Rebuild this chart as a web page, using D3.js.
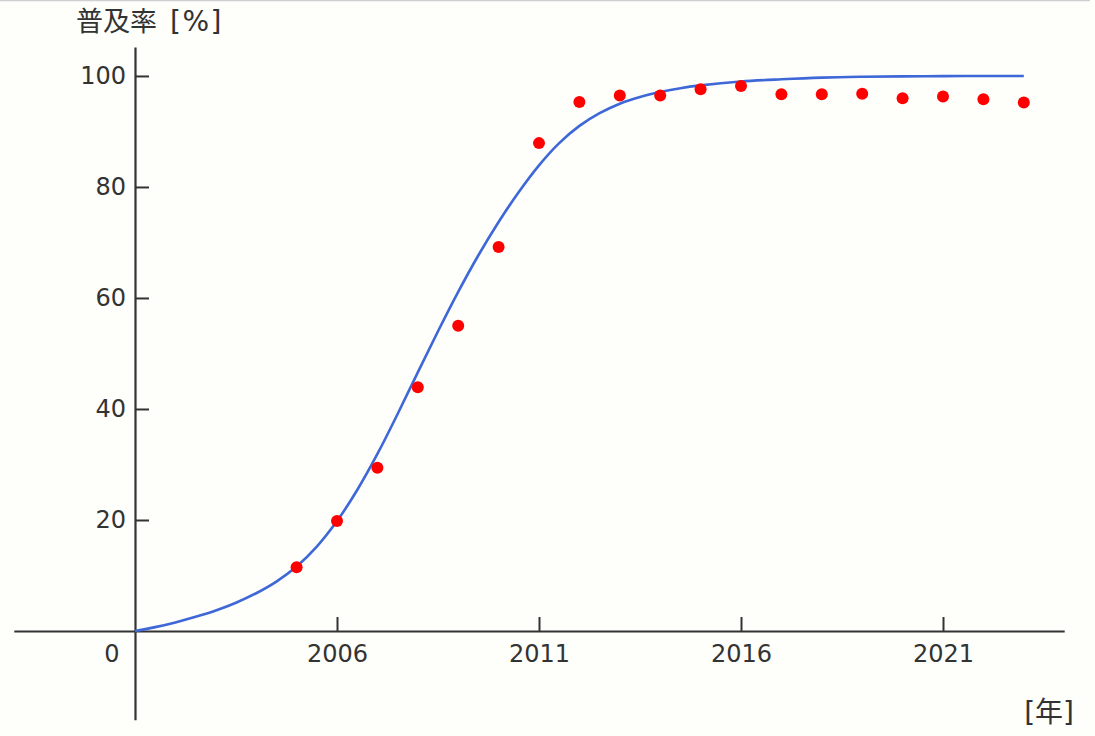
<!DOCTYPE html>
<html>
<head>
<meta charset="utf-8">
<script src="https://cdn.jsdelivr.net/npm/d3@7"></script>
<style>
  html, body { margin: 0; padding: 0; background: #fefefb; }
  svg { display: block; }
  text { font-family: "DejaVu Sans", "Noto Sans CJK JP", sans-serif; fill: #333; }
</style>
</head>
<body>
<svg id="chart" width="1095" height="736"></svg>
<script>
// Observed diffusion rate (%) by year
const years = [2005, 2006, 2007, 2008, 2009, 2010, 2011, 2012, 2013, 2014, 2015, 2016, 2017, 2018, 2019, 2020, 2021, 2022, 2023];
const shares = [11.5, 19.8, 29.4, 43.9, 55.0, 69.2, 87.9, 95.3, 96.5, 96.5, 97.6, 98.2, 96.7, 96.7, 96.8, 96.0, 96.3, 95.8, 95.2];

// Fitted curve
const curveYears = [2001, 2001.5, 2002, 2002.5, 2003, 2003.5, 2004, 2004.5, 2005, 2005.5, 2006, 2006.5, 2007, 2007.5, 2008, 2008.5, 2009, 2009.5, 2010, 2010.5, 2011, 2011.5, 2012, 2012.5, 2013, 2013.5, 2014, 2014.5, 2015, 2016, 2017, 2018, 2019, 2020, 2021, 2022, 2023];
const curveValues = [0, 0.7, 1.55, 2.55, 3.7, 5.1, 6.8, 8.9, 11.6, 15.2, 19.8, 25.4, 31.9, 39.1, 46.6, 54.0, 61.1, 67.7, 73.7, 79.1, 83.9, 87.9, 91.0, 93.3, 95.0, 96.2, 97.1, 97.8, 98.3, 99.0, 99.4, 99.7, 99.85, 99.93, 99.97, 100, 100];

// Axis ticks
const xTickValues = [2006, 2011, 2016, 2021];
const xTickLabels = ["2006", "2011", "2016", "2021"];
const yTickValues = [20, 40, 60, 80, 100];
const originLabel = "0";
const yTitle = "普及率";
const yUnit = "[%]";
const xUnit = "[年]";

const svg = d3.select("#chart");

// top border line of the screenshot
svg.append("line")
  .attr("x1", 0).attr("x2", 1090).attr("y1", 0.5).attr("y2", 0.5)
  .attr("stroke", "#cfcfcf").attr("stroke-width", 1.5);

const x = d3.scaleLinear().domain([1998, 2024]).range([13.8, 1064.2]);
const y = d3.scaleLinear().domain([-16, 105.2]).range([719.8, 47.1]);

// X axis through y=0
const xAxis = d3.axisBottom(x)
  .tickValues(xTickValues)
  .tickFormat((d, i) => xTickLabels[i])
  .tickSizeInner(-14)
  .tickSizeOuter(0)
  .tickPadding(14);
const gx = svg.append("g")
  .attr("transform", `translate(0,${y(0)})`)
  .call(xAxis);
gx.select(".domain").attr("stroke", "#333").attr("stroke-width", 2.2);
gx.selectAll(".tick line").attr("stroke", "#333").attr("stroke-width", 2);
gx.selectAll(".tick text")
  .attr("font-size", 24).attr("font-family", "DejaVu Sans").attr("fill", "#333");

// Y axis through x=2001
const yAxis = d3.axisLeft(y)
  .tickValues(yTickValues)
  .tickSizeInner(-14)
  .tickSizeOuter(0)
  .tickPadding(9);
const gy = svg.append("g")
  .attr("transform", `translate(${x(2001)},0)`)
  .call(yAxis);
gy.select(".domain").attr("stroke", "#333").attr("stroke-width", 2.2);
gy.selectAll(".tick line").attr("stroke", "#333").attr("stroke-width", 2);
gy.selectAll(".tick text")
  .attr("font-size", 24).attr("font-family", "DejaVu Sans").attr("fill", "#333");

// origin label
svg.append("text")
  .attr("x", x(2001) - 23)
  .attr("y", y(0) + 14)
  .attr("dy", "0.71em")
  .attr("text-anchor", "middle")
  .attr("font-size", 24)
  .text(originLabel);

// fitted curve
const line = d3.line()
  .x((d, i) => x(curveYears[i]))
  .y(d => y(d))
  .curve(d3.curveCatmullRom.alpha(0.5));
svg.append("path")
  .datum(curveValues)
  .attr("fill", "none")
  .attr("stroke", "#3e67d7")
  .attr("stroke-width", 2.6)
  .attr("d", line);

// observed points
svg.append("g").selectAll("circle")
  .data(shares)
  .join("circle")
  .attr("cx", (d, i) => x(years[i]))
  .attr("cy", d => y(d))
  .attr("r", 6)
  .attr("fill", "#ff0000");

// titles
svg.append("text")
  .attr("x", 76).attr("y", 31)
  .attr("font-size", 27)
  .text(yTitle);
svg.append("text")
  .attr("x", 170).attr("y", 31)
  .attr("font-size", 28)
  .attr("letter-spacing", 1.5)
  .text(yUnit);

svg.append("text")
  .attr("x", 1074).attr("y", 722)
  .attr("text-anchor", "end")
  .attr("font-size", 28)
  .text(xUnit);
</script>
</body>
</html>
